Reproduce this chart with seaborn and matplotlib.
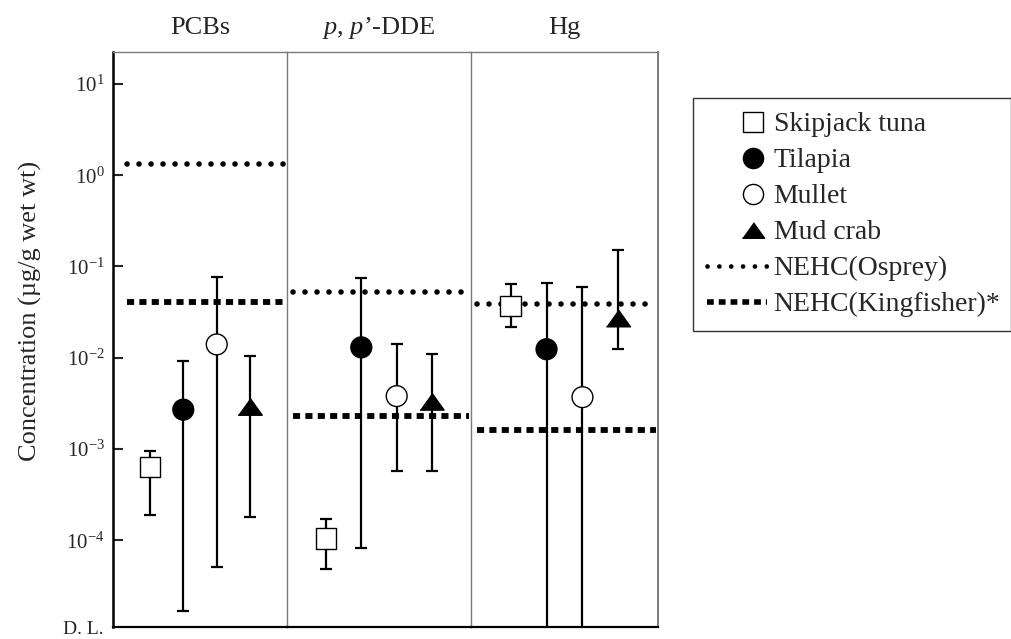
import numpy as np
import pandas as pd
import matplotlib.pyplot as plt
import seaborn as sns
from matplotlib.lines import Line2D
from matplotlib.legend_handler import HandlerLine2D

species = ['Skipjack tuna', 'Tilapia', 'Mullet', 'Mud crab']
panel_titles = ['PCBs', r'$\mathit{p}$, $\mathit{p}$’-DDE', 'Hg']

# concentrations (µg/g wet wt): centre value and range; None = below D.L.
pcb_mid = [6.4e-4, 2.7e-3, 1.4e-2, 2.9e-3]
pcb_low = [1.9e-4, 1.7e-5, 5.1e-5, 1.8e-4]
pcb_high = [9.6e-4, 9.3e-3, 7.6e-2, 1.05e-2]

dde_mid = [1.05e-4, 1.3e-2, 3.8e-3, 3.3e-3]
dde_low = [4.9e-5, 8.3e-5, 5.8e-4, 5.8e-4]
dde_high = [1.7e-4, 7.4e-2, 1.4e-2, 1.1e-2]

hg_mid = [3.7e-2, 1.24e-2, 3.7e-3, 2.7e-2]
hg_low = [2.2e-2, None, None, 1.24e-2]
hg_high = [6.4e-2, 6.6e-2, 5.9e-2, 1.5e-1]

# no-effect hazard concentrations per panel
nehc_osprey = [1.32, 5.3e-2, 3.9e-2]
nehc_kingfisher = [4.1e-2, 2.3e-3, 1.6e-3]

detection_limit = 10 ** -4.95
y_top = 10 ** 1.35
tick_values = [1e-4, 1e-3, 1e-2, 1e-1, 1e0, 1e1]
tick_labels = [r'$10^{-4}$', r'$10^{-3}$', r'$10^{-2}$', r'$10^{-1}$', r'$10^{0}$', r'$10^{1}$']

mids = [pcb_mid, dde_mid, hg_mid]
lows = [pcb_low, dde_low, hg_low]
highs = [pcb_high, dde_high, hg_high]

sns.set_theme(style='white')
plt.rcParams['font.family'] = ['Liberation Serif', 'DejaVu Serif']
plt.rcParams['mathtext.fontset'] = 'custom'
plt.rcParams['mathtext.rm'] = 'Liberation Serif'
plt.rcParams['mathtext.it'] = 'Liberation Serif:italic'
plt.rcParams['mathtext.bf'] = 'Liberation Serif:bold'

tri = [(-1, -0.7), (1, -0.7), (0, 0.7)]
marker_map = {'Skipjack tuna': 's', 'Tilapia': 'o', 'Mullet': 'o', 'Mud crab': tri}
face_map = {'Skipjack tuna': 'white', 'Tilapia': 'black', 'Mullet': 'white', 'Mud crab': 'black'}
size_map = {'Skipjack tuna': 215, 'Tilapia': 225, 'Mullet': 225, 'Mud crab': 300}

dotted = (0, (0.01, 2.15))
dashed = (0, (1.22, 0.9))
line_start = [0.08, 0.03, 0.03]
divider = '#7a7a7a'

fig = plt.figure(figsize=(10.12, 6.39), dpi=100)
gs = fig.add_gridspec(1, 3, left=113 / 1012, right=658 / 1012,
                      bottom=1 - 627 / 639, top=1 - 52 / 639,
                      wspace=0, width_ratios=[174, 184, 187])
axes = [fig.add_subplot(gs[0, i]) for i in range(3)]

for i, ax in enumerate(axes):
    df = pd.DataFrame({
        'species': species,
        'pos': np.arange(len(species)),
        'mid': mids[i],
        'low': [np.nan if v is None else v for v in lows[i]],
        'high': highs[i],
    })
    low_draw = df['low'].fillna(detection_limit / 100)
    ax.set_yscale('log')
    ax.axhline(nehc_osprey[i], xmin=line_start[i], xmax=0.99, color='black',
               lw=4.0, linestyle=dotted, dash_capstyle='round', zorder=1)
    ax.axhline(nehc_kingfisher[i], xmin=line_start[i], xmax=0.99, color='black',
               lw=4.2, linestyle=dashed, dash_capstyle='butt', zorder=1)
    ax.errorbar(df['pos'], df['mid'],
                yerr=[df['mid'] - low_draw, df['high'] - df['mid']],
                fmt='none', ecolor='black', elinewidth=1.6, capsize=4.5,
                capthick=1.6, zorder=2)
    sns.scatterplot(data=df, x='pos', y='mid', hue='species', style='species',
                    size='species', hue_order=species, style_order=species,
                    size_order=species, palette=face_map, markers=marker_map,
                    sizes=size_map, edgecolor='black', linewidth=1.0,
                    legend=False, ax=ax, zorder=3)
    ax.set_xlim(-1.1, 4.1)
    ax.set_ylim(detection_limit, y_top)
    ax.set_xlabel('')
    ax.set_ylabel('')
    ax.set_xticks([])
    ax.set_title(panel_titles[i], fontsize=19, pad=13)
    ax.spines['top'].set_color(divider)
    ax.spines['top'].set_linewidth(1.0)
    ax.spines['bottom'].set_color('black')
    ax.spines['bottom'].set_linewidth(1.6)
    ax.spines['right'].set_visible(i == 2)
    ax.spines['right'].set_color(divider)
    ax.spines['right'].set_linewidth(1.4)
    if i == 0:
        ax.spines['left'].set_color('black')
        ax.spines['left'].set_linewidth(1.8)
        ax.set_yticks(tick_values)
        ax.set_yticklabels(tick_labels)
        ax.tick_params(axis='y', direction='in', length=7, width=1.5,
                       labelsize=15, pad=6, left=True)
        ax.set_ylabel('Concentration (µg/g wet wt)', fontsize=19)
        ax.yaxis.set_label_coords(-0.41, 0.55)
        ax.text(-0.055, -0.019, 'D. L.', transform=ax.transAxes,
                ha='right', va='bottom', fontsize=14)
    else:
        ax.spines['left'].set_color(divider)
        ax.spines['left'].set_linewidth(1.0)
        ax.set_yticks([])
    ax.minorticks_off()


class RightMarkerHandler(HandlerLine2D):
    # line over the whole handle, single marker near its right end
    def create_artists(self, legend, orig_handle, xdescent, ydescent,
                       width, height, fontsize, trans):
        x0 = -xdescent
        x1 = -xdescent + width
        y = (height - ydescent) / 2
        line = Line2D([x0, x0 + 0.78 * width, x1], [y, y, y])
        self.update_prop(line, orig_handle, legend)
        line.set_markevery([1])
        line.set_transform(trans)
        return [line]


handles = []
for sp in species:
    handles.append(Line2D([], [], linestyle='none', marker=marker_map[sp],
                          markerfacecolor=face_map[sp], markeredgecolor='black',
                          markeredgewidth=1.0,
                          markersize=16 if sp == 'Mud crab' else 14.5))
handles.append(Line2D([], [], color='black', lw=3.4, linestyle=(0, (0.01, 2.5)),
                      dash_capstyle='round'))
handles.append(Line2D([], [], color='black', lw=4, linestyle=dashed,
                      dash_capstyle='butt'))
labels = species + ['NEHC(Osprey)', 'NEHC(Kingfisher)*']

leg = fig.legend(handles, labels, loc='upper left',
                 bbox_to_anchor=(693 / 1012, 1 - 336 / 639, 318 / 1012, 238 / 639),
                 mode='expand', fontsize=20, frameon=True, fancybox=False,
                 borderaxespad=0, borderpad=0.5, handlelength=2.15,
                 handletextpad=0.25, labelspacing=0.38,
                 handler_map={Line2D: RightMarkerHandler()})
leg.get_frame().set_edgecolor('black')
leg.get_frame().set_linewidth(1.0)

fig.savefig('out.png', dpi=100)
